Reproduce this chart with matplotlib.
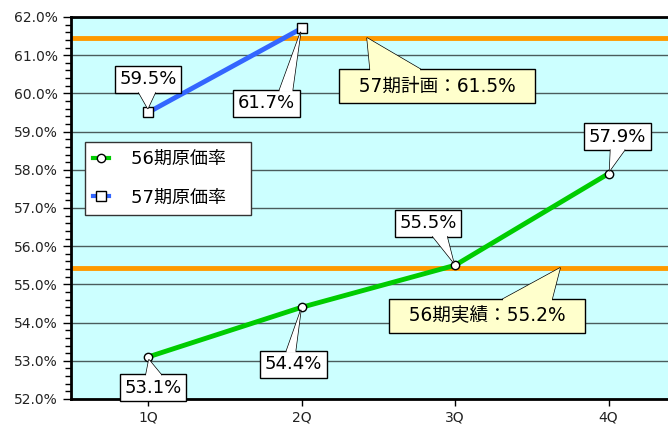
import matplotlib.pyplot as plt
import matplotlib.transforms as mtransforms
from matplotlib.patches import Polygon
import numpy as np

plt.rcParams['font.family'] = ['DejaVu Sans', 'Noto Sans CJK JP']

quarters = ['1Q', '2Q', '3Q', '4Q']
rate_56 = [53.1, 54.4, 55.5, 57.9]
rate_57 = [59.5, 61.7]
labels_56 = ['53.1%', '54.4%', '55.5%', '57.9%']
labels_57 = ['59.5%', '61.7%']
plan_57 = 61.45
actual_56 = 55.43
plan_text = '  57期計画：61.5%  '
actual_text = '  56期実績：55.2%  '

fig = plt.figure(figsize=(6.68, 4.30), dpi=100)
ax = fig.add_axes([0.1067, 0.0721, 0.9192, 0.8884])
ax.set_facecolor('#CCFFFF')

x = np.arange(len(quarters))
ax.set_xlim(-0.5, 3.5)
ax.set_ylim(52, 62)

ax.set_yticks(np.arange(52, 62.1, 1))
ax.set_yticks(np.arange(52, 62.01, 0.2), minor=True)
ax.set_yticklabels(['%.1f%%' % v for v in np.arange(52, 62.1, 1)], fontsize=10, color='#222222')
ax.set_xticks(x)
ax.set_xticklabels(quarters, fontsize=10, color='#222222')
ax.tick_params(axis='y', which='major', length=6, width=1, direction='out')
ax.tick_params(axis='y', which='minor', length=4, width=1, direction='out')
ax.tick_params(axis='x', length=5, width=1, direction='out')
ax.grid(axis='y', which='major', color='#4a5c5c', lw=1, zorder=0)
ax.set_axisbelow(True)
for s in ['left', 'top', 'bottom']:
    ax.spines[s].set_linewidth(2)
    ax.spines[s].set_color('black')
ax.spines['right'].set_visible(False)

ax.axhline(plan_57, color='#FF9900', lw=3.5, zorder=2)
ax.axhline(actual_56, color='#FF9900', lw=3.5, zorder=2)

ax.plot(x, rate_56, color='#00CC00', lw=3.5, marker='o', ms=6,
        mfc='white', mec='black', mew=1, zorder=3, label='56期原価率   ')
ax.plot(x[:len(rate_57)], rate_57, color='#3366FF', lw=3.5, marker='s', ms=7,
        mfc='white', mec='black', mew=1, zorder=3, label='57期原価率   ')

# callouts: (anchor, text, box offset px, pointer base x range px, side, tip gap, colour, size, pad)
callouts = [
    ((x[0], rate_56[0]), labels_56[0], (5, -31), (-2, 13), 'top', 3, 'white', 13, 0.25),
    ((x[1], rate_56[1]), labels_56[1], (-8, -57), (-15, -6), 'top', 3, 'white', 13, 0.25),
    ((x[2], rate_56[2]), labels_56[2], (-27, 42), (-22, -8), 'bottom', 3, 'white', 13, 0.25),
    ((x[3], rate_56[3]), labels_56[3], (9, 37), (2, 16), 'bottom', 3, 'white', 13, 0.25),
    ((x[0], rate_57[0]), labels_57[0], (0, 33), (-9, 7), 'bottom', 4, 'white', 13, 0.25),
    ((x[1], rate_57[1]), labels_57[1], (-35, -75), (-22, -9), 'top', 4, 'white', 13, 0.25),
    ((1.427, plan_57), plan_text, (70, -48), (3, 53), 'top', 0, '#FFFFCC', 13.4, 0.4),
    ((2.684, actual_56), actual_text, (-73, -48), (-57, -8), 'top', 0, '#FFFFCC', 13.4, 0.4),
]

anns = []
for anchor, txt, off, base, side, gap, fc, fs, pad in callouts:
    a = ax.annotate(txt, anchor, xytext=off, textcoords='offset pixels', ha='center', va='center',
                    fontsize=fs, zorder=5,
                    bbox=dict(boxstyle='square,pad=%g' % pad, fc=fc, ec='black', lw=1))
    anns.append(a)

fig.canvas.draw()
ident = mtransforms.IdentityTransform()
for a, (anchor, txt, off, base, side, gap, fc, fs, pad) in zip(anns, callouts):
    bb = a.get_bbox_patch().get_window_extent()
    px, py = ax.transData.transform(anchor)
    ey = bb.y1 if side == 'top' else bb.y0
    inner = -2 if side == 'top' else 2
    tip = np.array([px, py])
    mid = np.array([px + (base[0] + base[1]) / 2, ey])
    d = mid - tip
    tip = tip + d / np.hypot(*d) * gap
    verts = [(px + base[0], ey + inner), (px + base[0], ey), tuple(tip),
             (px + base[1], ey), (px + base[1], ey + inner)]
    fig.patches.append(Polygon(verts, closed=True, fc=fc, ec='none', transform=ident, zorder=6))
    fig.lines.append(plt.Line2D([px + base[0], tip[0], px + base[1]], [ey, tip[1], ey],
                                color='black', lw=1, transform=ident, zorder=6))

leg = ax.legend(loc='upper left', bbox_to_anchor=(0.022, 0.673), fontsize=13,
                handlelength=0.9, labelspacing=1.15, borderpad=0.45, fancybox=False,
                framealpha=1, edgecolor='#333333', handletextpad=1.2, borderaxespad=0)
leg.get_frame().set_linewidth(1)
for h in leg.get_lines():
    h.set_linewidth(3)

fig.savefig('out.png', dpi=100)
